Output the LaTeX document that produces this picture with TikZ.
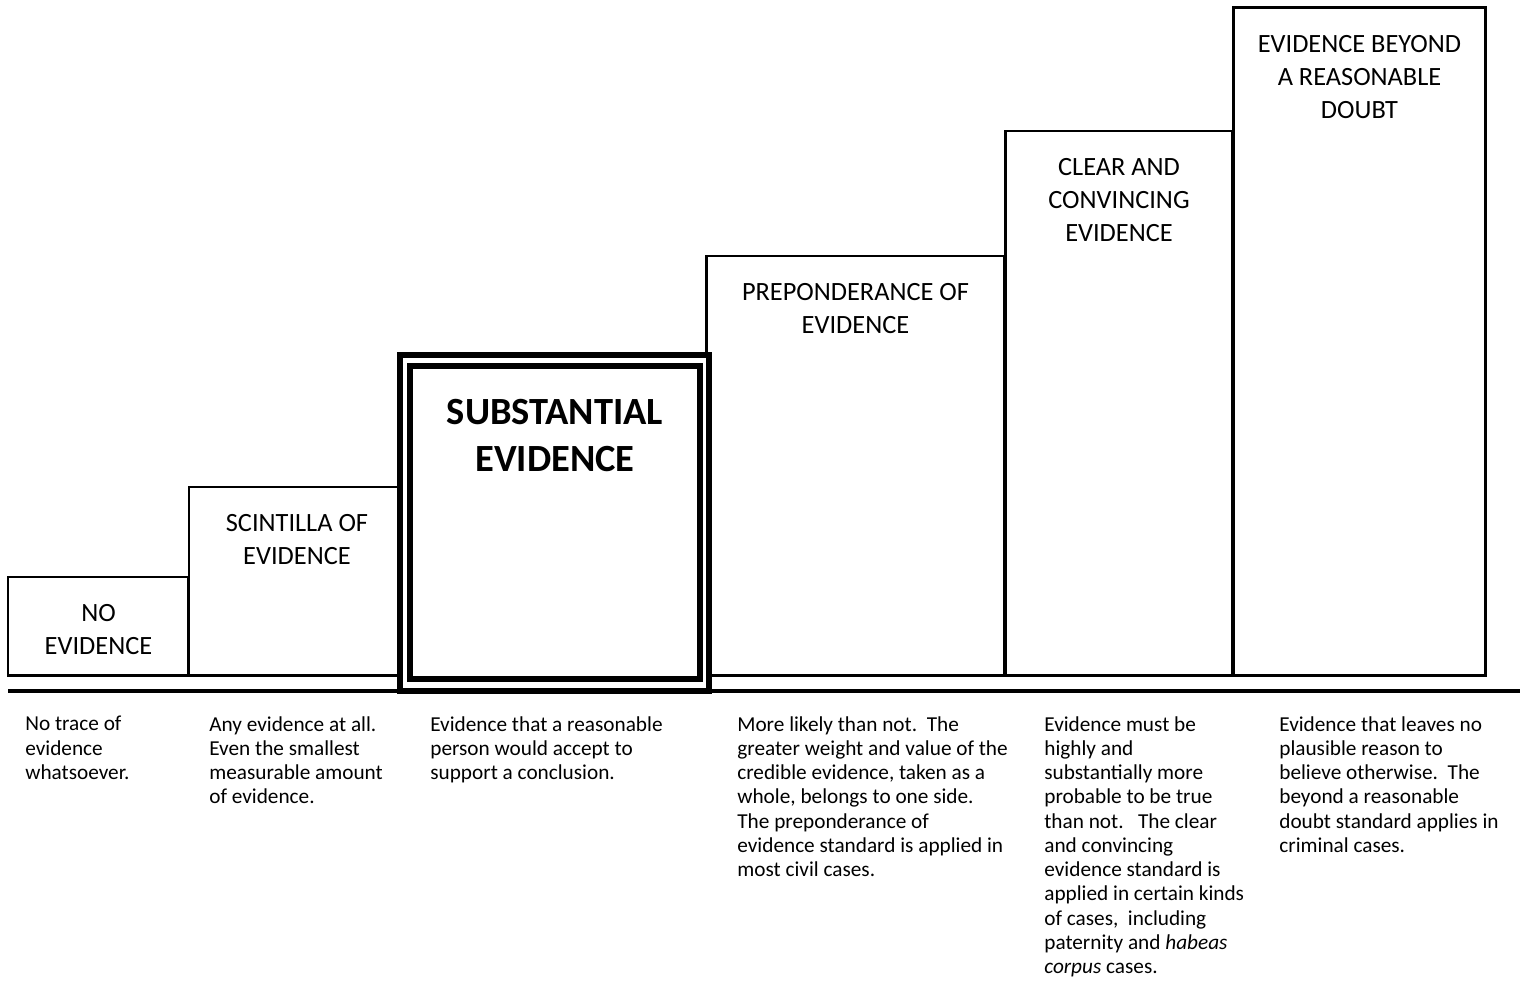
\documentclass[tikz,border=0pt]{standalone}
\usepackage{fontspec}
\setmainfont{Carlito}
\usetikzlibrary{positioning}

\begin{document}
\begin{tikzpicture}[x=0.02cm, y=-0.02cm,
    stepbox/.style={draw, line width=1.7pt, rectangle, inner sep=0pt, outer sep=0pt, anchor=north west},
    heavybox/.style={draw, line width=3.2pt, rectangle, inner sep=0pt, outer sep=0pt, anchor=north west},
    title/.style={align=center, inner sep=0pt, font=\fontsize{15}{18.8}\selectfont},
    note/.style={align=left, inner sep=0pt, anchor=north west, font=\fontsize{12.1}{13.8}\selectfont}]
    \useasboundingbox (0,0) rectangle (1523,996);

    % the steps
    \node[stepbox, minimum width=3.62cm, minimum height=1.98cm] (none) at (8,577) {};
    \node[stepbox, minimum width=4.32cm, minimum height=3.78cm] (scint) at (189,487) {};
    \node[stepbox, minimum width=5.98cm, minimum height=8.4cm] (prep) at (706,256) {};
    \node[stepbox, minimum width=4.56cm, minimum height=10.9cm] (clear) at (1005,131) {};
    \node[stepbox, minimum width=5.06cm, minimum height=13.36cm] (doubt) at (1233,8) {};

    \coordinate (ground west) at (8,691);
    \coordinate (ground east) at (1520,691);
    \draw[line width=2.2pt] (ground west) -- (ground east);

    \node[heavybox, fill=white, minimum width=6.18cm, minimum height=6.72cm] (frame) at (400,355) {};
    \node[heavybox, minimum width=5.8cm, minimum height=6.26cm] (subst) at (410,366) {};

    \node[title, below=0.54cm of none.north] (none title) {NO\\EVIDENCE};
    \node[title, below=0.54cm of scint.north] (scint title) {SCINTILLA OF\\EVIDENCE};
    \node[title, font=\fontsize{21.9}{26.6}\selectfont\bfseries, below=0.66cm of subst.north] (subst title) {SUBSTANTIAL\\EVIDENCE};
    \node[title, below=0.54cm of prep.north] (prep title) {PREPONDERANCE OF\\EVIDENCE};
    \node[title, below=0.54cm of clear.north] (clear title) {CLEAR AND\\CONVINCING\\EVIDENCE};
    \node[title, below=0.54cm of doubt.north] (doubt title) {EVIDENCE BEYOND\\A REASONABLE\\DOUBT};

    % what each one means
    \node[note] (none note) at (25,716) {No trace of\\evidence\\whatsoever.};
    \node[note] (scint note) at (209,716) {Any evidence at all.\\Even the smallest\\measurable amount\\of evidence.};
    \node[note] (subst note) at (430,716) {Evidence that a reasonable\\person would accept to\\support a conclusion.};
    \node[note] (prep note) at (737,716) {More likely than not.\ \ The\\greater weight and value of the\\credible evidence, taken as a\\whole, belongs to one side.\\The preponderance of\\evidence standard is applied in\\most civil cases.};
    \node[note] (clear note) at (1044,716) {Evidence must be\\highly and\\substantially more\\probable to be true\\than not.\ \ \ The clear\\and convincing\\evidence standard is\\applied in certain kinds\\of cases,\ \ including\\paternity and \textit{habeas}\\\textit{corpus} cases.};
    \node[note] (doubt note) at (1279,716) {Evidence that leaves no\\plausible reason to\\believe otherwise.\ \ The\\beyond a reasonable\\doubt standard applies in\\criminal cases.};
\end{tikzpicture}
\end{document}
